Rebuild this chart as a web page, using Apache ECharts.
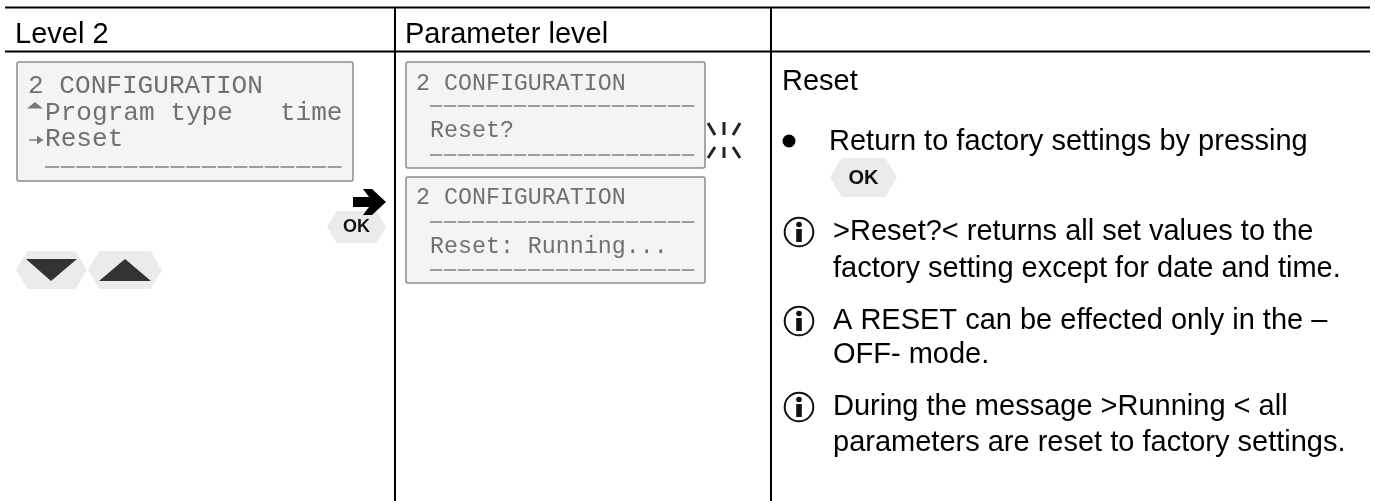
<!DOCTYPE html>
<html><head><meta charset="utf-8">
<style>html,body{margin:0;padding:0;background:#fff}#c{width:1375px;height:501px}</style>
<script src="https://cdn.jsdelivr.net/npm/echarts@6/dist/echarts.min.js"></script>
</head><body><div id="c"></div>
<script>
const headers = ['Level 2', 'Parameter level'];
const lcdLevel2 = ['2 CONFIGURATION', 'Program type   time', 'Reset'];
const lcdParam1 = ['2 CONFIGURATION', 'Reset?'];
const lcdParam2 = ['2 CONFIGURATION', 'Reset: Running...'];
const bodyTitle = 'Reset';
const bulletLine = 'Return to factory settings by pressing';
const notes = [
  ['>Reset?< returns all set values to the', 'factory setting except for date and time.'],
  ['A RESET can be effected only in the –', 'OFF- mode.'],
  ['During the message >Running < all', 'parameters are reset to factory settings.']
];
const okLabel = 'OK';

const sans = '"Liberation Sans", Arial, sans-serif';
const mono = '"Liberation Mono", monospace';
const els = [];
function line(x1,y1,x2,y2,w,color,dash){els.push({type:'line',silent:true,shape:{x1,y1,x2,y2},style:{stroke:color||'#000',lineWidth:w||2,lineDash:dash||null}});}
function text(x,base,t,size,opt){opt=opt||{};els.push({type:'text',x,y:base-0.3465*size,silent:true,style:{text:t,font:(opt.weight||'normal')+' '+size+'px '+(opt.family||sans),fill:opt.color||'#000',verticalAlign:'middle',align:opt.align||'left'}});}
function poly(points,fill){els.push({type:'polygon',silent:true,shape:{points},style:{fill:fill}});}
function hex(x,y,w,h,fill){const d=h*0.3;poly([[x,y+h/2],[x+d,y],[x+w-d,y],[x+w,y+h/2],[x+w-d,y+h],[x+d,y+h]],fill||'#ebebeb');}
function box(x,y,w,h){els.push({type:'rect',silent:true,shape:{x,y,width:w,height:h,r:2},style:{fill:'#f4f4f4',stroke:'#8c8c8c',lineWidth:1.5}});}
function okBtn(x,y,w,h,size,base){hex(x,y,w,h);text(x+w/2,base,okLabel,size,{weight:'bold',align:'center',color:'#111'});}
function info(cx,cy){
  els.push({type:'circle',silent:true,shape:{cx,cy,r:14.3},style:{fill:'none',stroke:'#111',lineWidth:2}});
  els.push({type:'circle',silent:true,shape:{cx,cy:cy-7.5,r:2.8},style:{fill:'#111'}});
  els.push({type:'rect',silent:true,shape:{x:cx-2.8,y:cy-3,width:5.6,height:13},style:{fill:'#111'}});
}
const lcdColor = '#707070';
function dash(x1,x2,y,p){line(x1,y,x2,y,1.6,'#808080',p);}
const dashWide=[14,1.7], dashNarrow=[12.4,1.6];

// table grid
line(5,7.5,1370,7.5,2);
line(5,51.5,1370,51.5,2);
line(395,7,395,501,2);
line(771,7,771,501,2);
text(15,45,headers[0],29);
text(405,45,headers[1],29);

// Level 2 LCD
box(17,62,336,119);
text(28,95,lcdLevel2[0],26.1,{family:mono,color:lcdColor});
text(45,122,lcdLevel2[1],26.1,{family:mono,color:lcdColor});
text(45,148,lcdLevel2[2],26.1,{family:mono,color:lcdColor});
poly([[27,108.5],[35,102],[43,108.5]],'#777');
line(29,140,43,140,1.4,'#777');
poly([[37,135.5],[43,140],[37,144.5]],'#777');
dash(45,343,167,dashWide);

// Parameter LCD 1
box(406,62,299,106);
text(416,92,lcdParam1[0],23.3,{family:mono,color:lcdColor});
dash(430,696,106,dashNarrow);
text(430,139,lcdParam1[1],23.3,{family:mono,color:lcdColor});
dash(430,696,155,dashNarrow);
// Parameter LCD 2
box(406,177,299,106);
text(416,206,lcdParam2[0],23.3,{family:mono,color:lcdColor});
dash(430,696,222,dashNarrow);
text(430,255,lcdParam2[1],23.3,{family:mono,color:lcdColor});
dash(430,696,270,dashNarrow);

// blink marks
[[708,123,715,135],[740,123,733,135],[724,122,724,135],[708,158,715,147],[740,158,733,147],[724,147,724,158]].forEach(p=>line(p[0],p[1],p[2],p[3],3,'#222'));

// arrow + OK
okBtn(327,211,59,32,18,233);
poly([[353,197],[369,197],[363,189],[372,189],[386,202],[372,215],[363,215],[369,207],[353,207]],'#000');

// up/down buttons
hex(16,251,71,38);poly([[26,259],[77,259],[51,281]],'#333');
hex(88,251,74,38);poly([[99,281],[151,281],[125,259]],'#333');

// right column
text(782,92,bodyTitle,29);
els.push({type:'circle',silent:true,shape:{cx:789,cy:141,r:6.5},style:{fill:'#000'}});
text(829,152,bulletLine,29);
okBtn(830,158,67,39,20,185);
info(799,232);text(833,242,notes[0][0],29);text(833,279,notes[0][1],29);
info(799,321);text(833,331,notes[1][0],29);text(833,365,notes[1][1],29);
info(799,407);text(833,417,notes[2][0],29);text(833,453,notes[2][1],29);

echarts.init(document.getElementById('c'),null,{renderer:'canvas'}).setOption({animation:false,graphic:{elements:els}});
</script></body></html>
